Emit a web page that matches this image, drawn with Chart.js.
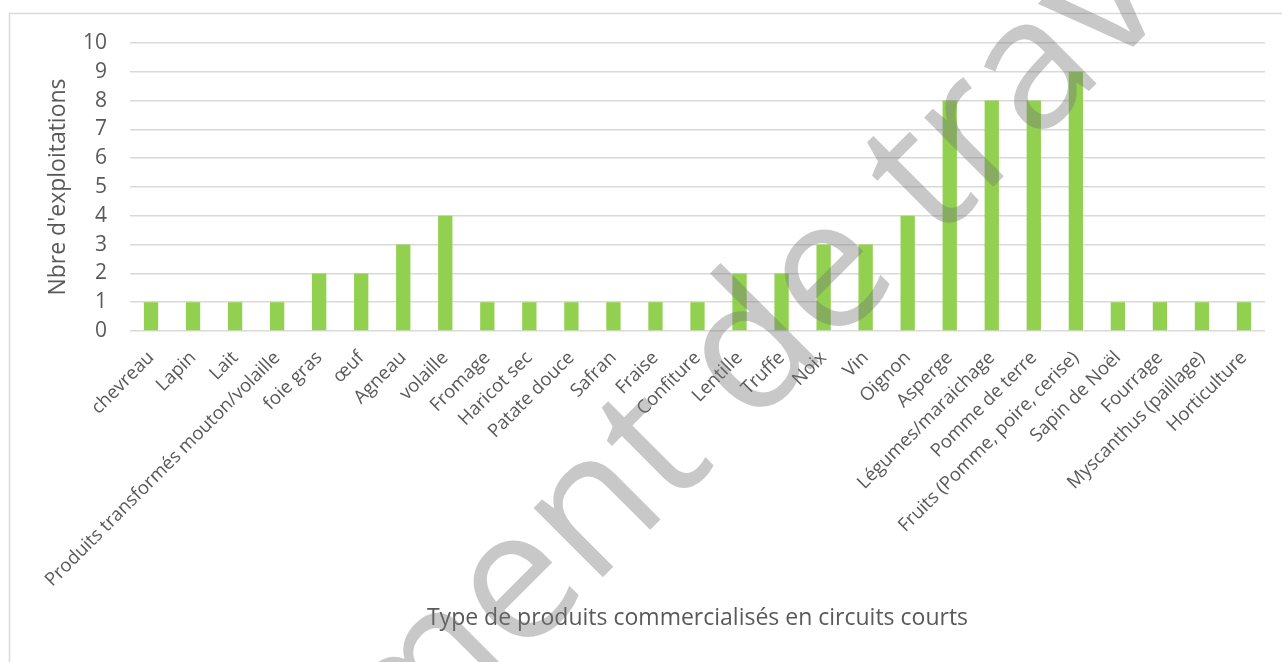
<!DOCTYPE html>
<html>
<head>
<meta charset="utf-8">
<script src="https://cdn.jsdelivr.net/npm/chart.js@4.4.1/dist/chart.umd.min.js"></script>
<style>
  html, body { margin: 0; padding: 0; background: #fff; }
  #wrap { width: 1282px; height: 662px; }
</style>
</head>
<body>
<div id="wrap"><canvas id="bar-chart"></canvas></div>
<script>
var produits = ["chevreau", "Lapin", "Lait", "Produits transformés mouton/volaille", "foie gras", "œuf",
  "Agneau", "volaille", "Fromage", "Haricot sec", "Patate douce", "Safran", "Fraise", "Confiture",
  "Lentille", "Truffe", "Noix", "Vin", "Oignon", "Asperge", "Légumes/maraichage", "Pomme de terre",
  "Fruits (Pomme, poire, cerise)", "Sapin de Noël", "Fourrage", "Myscanthus (paillage)", "Horticulture"];
var exploitations = [1, 1, 1, 1, 2, 2, 3, 4, 1, 1, 1, 1, 1, 1, 2, 2, 3, 3, 4, 8, 8, 8, 9, 1, 1, 1, 1];
var yTicks = [0, 1, 2, 3, 4, 5, 6, 7, 8, 9, 10];

var gris = "#595959";
var police = "'Open Sans', sans-serif";

// white page + light frame around the chart
var cadre = {
  id: "cadre",
  beforeDraw: function (chart) {
    var ctx = chart.ctx;
    ctx.save();
    ctx.fillStyle = "#fff";
    ctx.fillRect(0, 0, chart.width, chart.height);
    ctx.strokeStyle = "#d9d9d9";
    ctx.lineWidth = 1.5;
    ctx.strokeRect(9.5, 13.5, chart.width + 20, chart.height + 20);
    ctx.restore();
  }
};

// diagonal "Document de travail" stamp over everything
var filigrane = {
  id: "filigrane",
  afterDraw: function (chart) {
    var ctx = chart.ctx;
    var ang = -45 * Math.PI / 180;
    ctx.save();
    ctx.font = "183px " + police;
    // the "t" ending "Document" sits at (671, 509)
    var avant = ctx.measureText("Documen").width;
    var ox = 671 - avant * Math.cos(ang);
    var oy = 509 - avant * Math.sin(ang);
    ctx.translate(ox, oy);
    ctx.rotate(ang);
    ctx.fillStyle = "rgba(118,118,118,0.4)";
    ctx.textBaseline = "alphabetic";
    ctx.fillText("Document de travail", 0, 0);
    ctx.restore();
  }
};

new Chart(document.getElementById("bar-chart"), {
  type: "bar",
  data: {
    labels: produits,
    datasets: [
      {
        label: "Nbre d'exploitations",
        backgroundColor: "#92d050",
        data: exploitations,
        categoryPercentage: 1,
        barPercentage: 0.34
      }
    ]
  },
  options: {
    responsive: true,
    maintainAspectRatio: false,
    animation: false,
    layout: { padding: { left: 9, right: 17, top: 43, bottom: 20 } },
    plugins: {
      legend: { display: false },
      tooltip: { enabled: false }
    },
    scales: {
      x: {
        grid: { display: false },
        border: { display: false },
        ticks: {
          color: gris,
          font: { family: police, size: 18.5 },
          autoSkip: false,
          minRotation: 45,
          maxRotation: 45,
          padding: 8
        },
        title: {
          display: true,
          text: "Type de produits commercialisés en circuits courts",
          color: gris,
          font: { family: police, size: 23 },
          padding: { top: 0, bottom: 10 }
        },
        afterFit: function (s) { s.height = 311; }
      },
      y: {
        min: 0,
        max: 10,
        afterBuildTicks: function (s) { s.ticks = yTicks.map(function (v) { return { value: v }; }); },
        grid: { color: "#d9d9d9", lineWidth: 1.5, drawTicks: false },
        border: { display: false },
        ticks: {
          color: gris,
          font: { family: police, size: 21 },
          padding: 23
        },
        title: {
          display: true,
          text: "Nbre d'exploitations",
          color: gris,
          font: { family: police, size: 23 },
          padding: { top: 36, bottom: 0 }
        },
        afterFit: function (s) { s.width = 121; }
      }
    }
  },
  plugins: [cadre, filigrane]
});
</script>
</body>
</html>
